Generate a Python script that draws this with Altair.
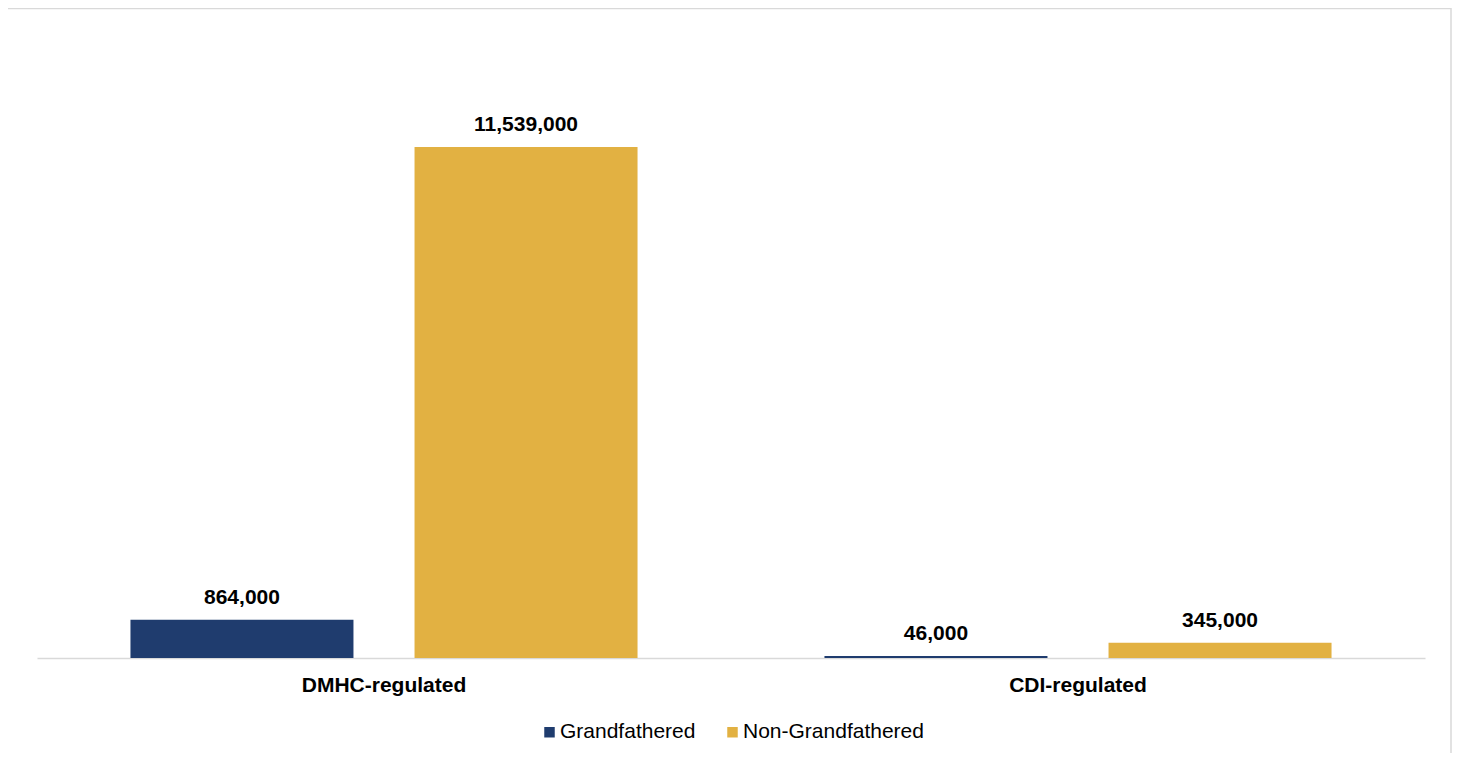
import altair as alt
import pandas as pd

categories = ["DMHC-regulated", "CDI-regulated"]
series = ["Grandfathered", "Non-Grandfathered"]
grandfathered = [864000, 46000]
non_grandfathered = [11539000, 345000]
colors = ["#1F3C6E", "#E2B142"]

rows = []
for i, c in enumerate(categories):
    rows.append({"category": c, "series": series[0], "value": grandfathered[i]})
    rows.append({"category": c, "series": series[1], "value": non_grandfathered[i]})
df = pd.DataFrame(rows)

FONT = "Liberation Sans"

x = alt.X(
    "category:N", sort=categories, title=None,
    scale=alt.Scale(paddingInner=0, paddingOuter=0),
    axis=alt.Axis(labelAngle=0, labelFont=FONT, labelFontSize=21, labelFontWeight="bold",
                  labelColor="#000000", ticks=False, labelPadding=16,
                  domainColor="#d9d9d9", domainWidth=1.5, grid=False),
)
xo = alt.XOffset("series:N", sort=series,
                 scale=alt.Scale(paddingInner=0.215, paddingOuter=0.329))
y = alt.Y("value:Q", scale=alt.Scale(domain=[0, 14000000], nice=False, zero=True), axis=None)

border = alt.Chart(pd.DataFrame({"b": [0]})).mark_rect(
    fill="transparent", stroke="#d9d9d9", strokeWidth=1.5
).encode(x=alt.value(-30), x2=alt.value(1414), y=alt.value(-29.5), y2=alt.value(900))

bars = alt.Chart(df).mark_bar().encode(
    x=x, xOffset=xo, y=y,
    color=alt.Color(
        "series:N", sort=series,
        scale=alt.Scale(domain=series, range=colors),
        legend=alt.Legend(orient="none", legendX=502, legendY=683.5, direction="horizontal",
                          title=None, symbolType="square", symbolSize=110,
                          symbolStrokeWidth=0, symbolOpacity=1,
                          labelFont=FONT, labelFontSize=21, labelColor="#000000",
                          labelOffset=0, labelLimit=400, columnPadding=26, padding=0),
    ),
)

labels = alt.Chart(df).mark_text(
    font=FONT, fontSize=21, fontWeight="bold", color="#000000", dy=-16, baseline="alphabetic"
).encode(x=x, xOffset=xo, y=y, text=alt.Text("value:Q", format=",.0f"))

chart = alt.layer(border, bars, labels).properties(
    width=1388, height=620,
    autosize=alt.AutoSizeParams(type="none"),
    padding={"left": 29, "top": 30, "right": 27, "bottom": 95},
).configure_view(strokeWidth=0)

chart.save("out.html", embed_options={"renderer": "svg", "actions": False})
